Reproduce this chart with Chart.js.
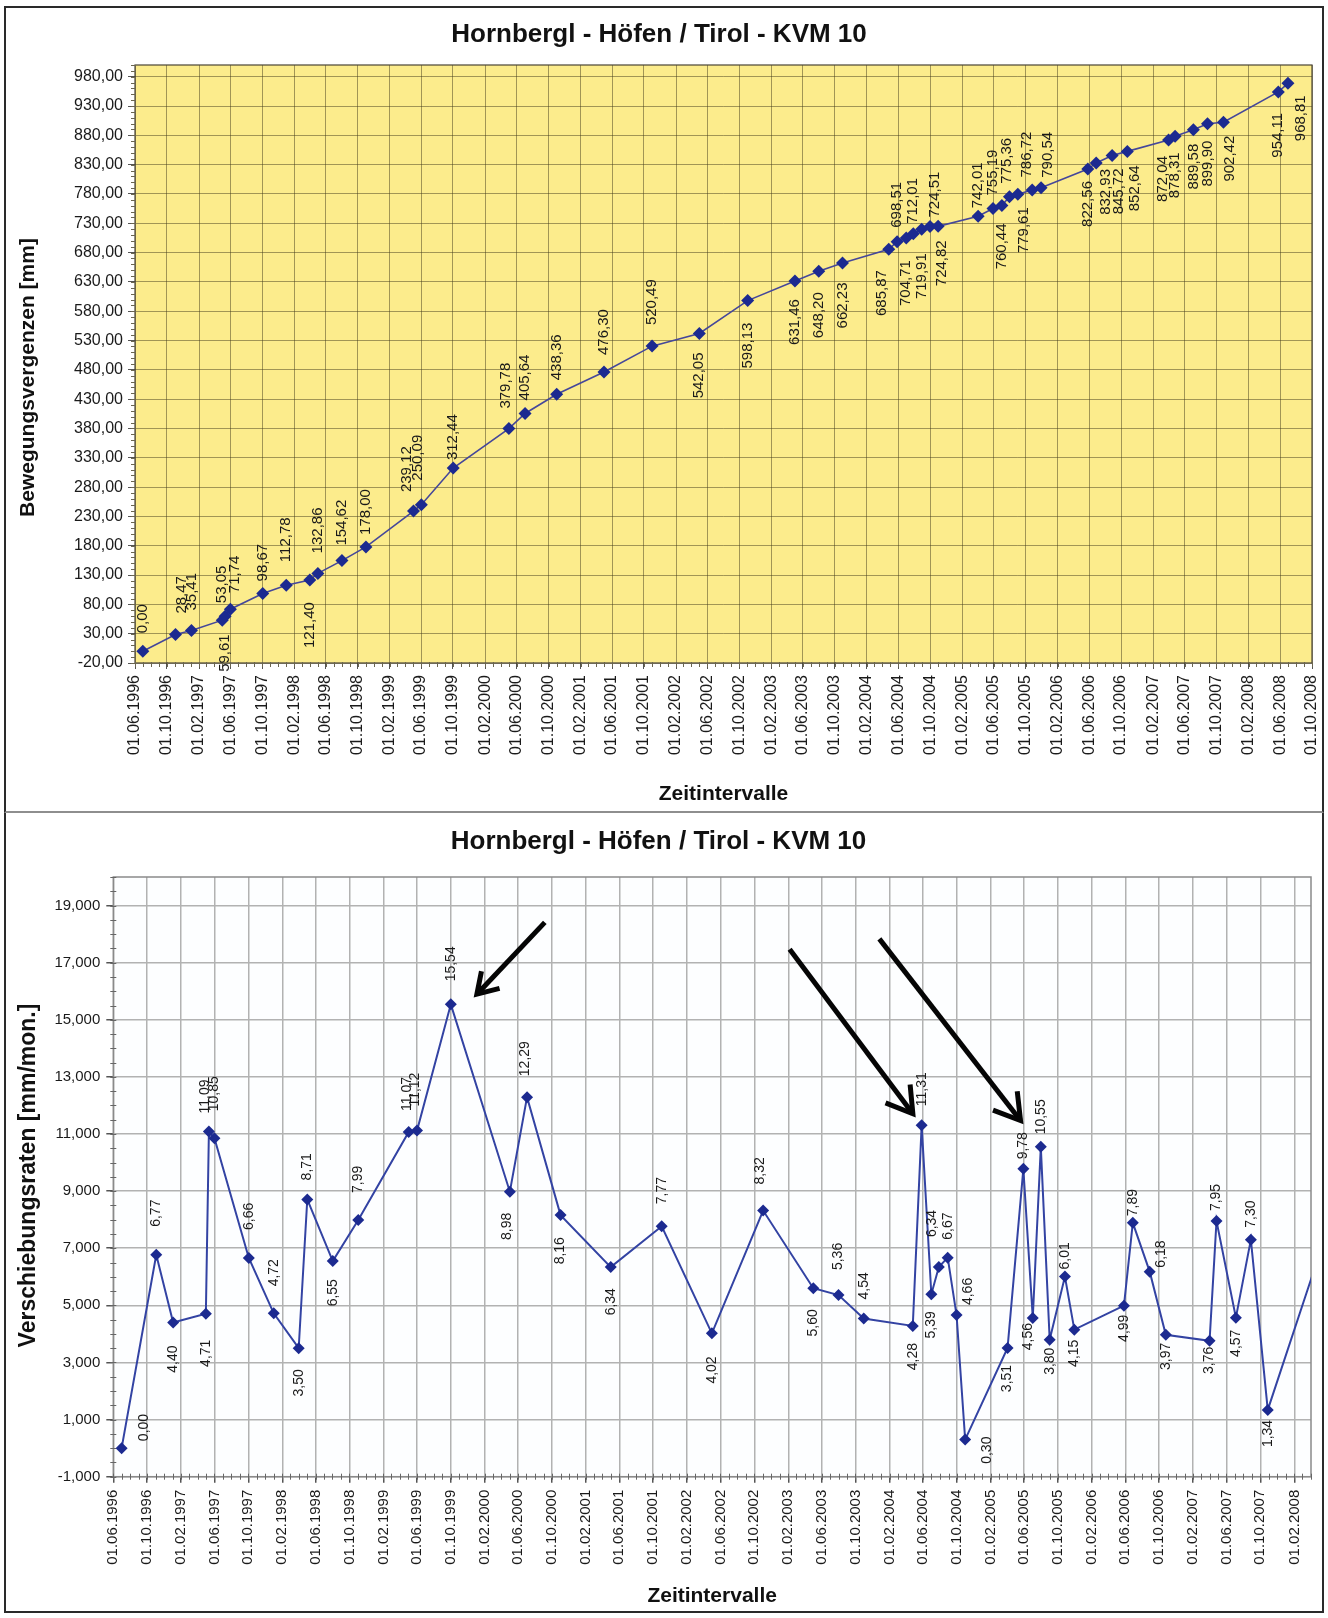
<!DOCTYPE html>
<html lang="de">
<head>
<meta charset="utf-8">
<title>Hornbergl - Höfen / Tirol - KVM 10</title>
<script src="https://cdn.jsdelivr.net/npm/chart.js@4.4.1/dist/chart.umd.min.js"></script>
<style>
  html, body { margin: 0; padding: 0; background: #fff; }
  body { width: 1328px; height: 1618px; position: relative; overflow: hidden; }
  .panel { position: absolute; box-sizing: border-box; }
  #panelTop { left: 4px; top: 6px; width: 1320px; height: 807px; border: 2px solid #2a2a2a; border-bottom: 2px solid #8e8e8e; }
  #panelBottom { left: 4px; top: 813px; width: 1320px; height: 800px; border: 2px solid #2a2a2a; border-top: none; }
  canvas { position: absolute; }
  #chartTop { left: 6px; top: 8px; }
  #chartBottom { left: 6px; top: 814px; }
</style>
</head>
<body>
<div class="panel" id="panelTop"></div>
<div class="panel" id="panelBottom"></div>
<canvas id="chartTop" width="1316" height="803"></canvas>
<canvas id="chartBottom" width="1316" height="797"></canvas>
<script>
// Measurement dates (dd.mm.yyyy)
const measureDates = [
  '01.07.1996', '03.11.1996', '03.01.1997', '01.05.1997', '12.05.1997', '01.06.1997', '03.10.1997',
  '01.01.1998', '01.04.1998', '02.05.1998', '02.08.1998', '02.11.1998', '03.05.1999', '02.06.1999',
  '02.10.1999', '02.05.2000', '03.07.2000', '01.11.2000', '01.05.2001', '01.11.2001', '01.05.2002',
  '02.11.2002', '02.05.2003', '01.08.2003', '31.10.2003', '25.04.2004', '27.05.2004', '01.07.2004',
  '28.07.2004', '29.08.2004', '30.09.2004', '31.10.2004', '02.04.2005', '29.05.2005', '02.07.2005',
  '31.07.2005', '01.09.2005', '26.10.2005', '29.11.2005', '27.05.2006', '28.06.2006', '28.08.2006',
  '25.10.2006', '01.04.2007', '26.04.2007', '05.07.2007', '28.08.2007', '28.10.2007', '25.05.2008',
  '01.07.2008'
];

// Accumulated displacement [mm]
const displacement = [
  0.00, 28.47, 35.41, 53.05, 59.61, 71.74, 98.67, 112.78, 121.40, 132.86,
  154.62, 178.00, 239.12, 250.09, 312.44, 379.78, 405.64, 438.36, 476.30, 520.49,
  542.05, 598.13, 631.46, 648.20, 662.23, 685.87, 698.51, 704.71, 712.01, 719.91,
  724.51, 724.82, 742.01, 755.19, 760.44, 775.36, 779.61, 786.72, 790.54, 822.56,
  832.93, 845.72, 852.64, 872.04, 878.31, 889.58, 899.90, 902.42, 954.11, 968.81
];

// Displacement rate between successive measurements [mm/month]
const rates = [
  0.00, 6.77, 4.40, 4.71, 11.09, 10.85, 6.66, 4.72, 3.50, 8.71,
  6.55, 7.99, 11.07, 11.12, 15.54, 8.98, 12.29, 8.16, 6.34, 7.77,
  4.02, 8.32, 5.60, 5.36, 4.54, 4.28, 11.31, 5.39, 6.34, 6.67,
  4.66, 0.30, 3.51, 9.78, 4.56, 10.55, 3.80, 6.01, 4.15, 4.99,
  7.89, 6.18, 3.97, 3.76, 7.95, 4.57, 7.30, 1.34, 7.49, 12.25
];

// Date axis tick labels
const displacementDateTicks = [
  '01.06.1996', '01.10.1996', '01.02.1997', '01.06.1997', '01.10.1997', '01.02.1998', '01.06.1998',
  '01.10.1998', '01.02.1999', '01.06.1999', '01.10.1999', '01.02.2000', '01.06.2000', '01.10.2000',
  '01.02.2001', '01.06.2001', '01.10.2001', '01.02.2002', '01.06.2002', '01.10.2002', '01.02.2003',
  '01.06.2003', '01.10.2003', '01.02.2004', '01.06.2004', '01.10.2004', '01.02.2005', '01.06.2005',
  '01.10.2005', '01.02.2006', '01.06.2006', '01.10.2006', '01.02.2007', '01.06.2007', '01.10.2007',
  '01.02.2008', '01.06.2008', '01.10.2008'
];
const rateDateTicks = [
  '01.06.1996', '01.10.1996', '01.02.1997', '01.06.1997', '01.10.1997', '01.02.1998', '01.06.1998',
  '01.10.1998', '01.02.1999', '01.06.1999', '01.10.1999', '01.02.2000', '01.06.2000', '01.10.2000',
  '01.02.2001', '01.06.2001', '01.10.2001', '01.02.2002', '01.06.2002', '01.10.2002', '01.02.2003',
  '01.06.2003', '01.10.2003', '01.02.2004', '01.06.2004', '01.10.2004', '01.02.2005', '01.06.2005',
  '01.10.2005', '01.02.2006', '01.06.2006', '01.10.2006', '01.02.2007', '01.06.2007', '01.10.2007',
  '01.02.2008'
];

// Value axis tick labels
const displacementValueTicks = [-20, 30, 80, 130, 180, 230, 280, 330, 380, 430, 480, 530, 580, 630, 680, 730, 780, 830, 880, 930, 980];
const rateValueTicks = [-1, 1, 3, 5, 7, 9, 11, 13, 15, 17, 19];

// Value label layout per point: side (a = above, b = below), gap to the point [px], sideways nudge [px]
const displacementLabelSide = [
  'a', 'a', 'a', 'a', 'b', 'a', 'a', 'a', 'b', 'a',
  'a', 'a', 'a', 'a', 'a', 'a', 'a', 'a', 'a', 'a',
  'b', 'b', 'b', 'b', 'b', 'b', 'a', 'b', 'a', 'b',
  'a', 'b', 'a', 'a', 'b', 'a', 'b', 'a', 'a', 'b',
  'b', 'b', 'b', 'b', 'b', 'b', 'b', 'b', 'b', 'b'
];
const displacementLabelGap = [
  18, 21, 20, 17, 18, 16, 12, 23, 22, 20,
  15, 12, 19, 24, 8, 20, 13, 14, 17, 21,
  19, 22, 18, 21, 19.5, 21, 14, 22, 10, 24,
  9, 14, 8, 13, 18, 13, 13, 12.5, 10, 12,
  6, 13, 14, 16, 16, 14, 17, 13.5, 21, 12
];
const displacementLabelShift = [
  0, 6, 0, 0, 0, 4, 0, 0, 0, 0,
  0, 0, -7, -3, 0, -3, 0, 0, 0, 0,
  0, 0, 0, 0, 0, -7, 0, 0, 0, 0,
  5, 4, 0, 0, 0, -3, 6, -5, 7, 0,
  10, 7, 8, -6, 0, 0, 0, 6, 0, 13
];
const rateLabelSide = [
  'a', 'a', 'b', 'b', 'a', 'a', 'a', 'a', 'b', 'a',
  'b', 'a', 'a', 'a', 'a', 'b', 'a', 'b', 'b', 'a',
  'b', 'a', 'b', 'a', 'a', 'b', 'a', 'b', 'a', 'a',
  'a', 'b', 'b', 'a', 'b', 'a', 'b', 'a', 'b', 'b',
  'a', 'a', 'b', 'b', 'a', 'b', 'a', 'b', 'a', 'a'
];
const rateLabelGap = [
  7, 28, 23, 26, 18, 27, 28, 27, 21, 19,
  18, 27, 21, 24, 23, 21, 21, 22, 21, 22,
  23, 26, 21, 25, 19, 17, 19, 17, 30, 18,
  10, -3, 17, 9.5, 5, 12.5, 8, 7, 10, 9,
  6.6, 4, 8, 6, 10, 12, 12, 10, 0, 0
];
const rateLabelShift = [
  23, 0, 0, 0, -4, 0, 0, 0, 0, 0,
  0, 0, -2, -2, 0, -3, -2, 0, 0, 0,
  0, -3, 0, 0, 0, 0, 0, 0, -7, 0,
  12, 22, 0, 0, -5, 0, 0, 0, 0, 0,
  0, 11, 0, 0, 0, 0, 0, 0, 0, 0
];

const FONT = "'Liberation Sans', Arial, Helvetica, sans-serif";

function dayNum(s) {
  const [d, m, y] = s.split('.').map(Number);
  return Date.UTC(y, m - 1, d) / 86400000;
}
function fmt(v, dec) { return v.toFixed(dec).replace('.', ','); }

// Fills the plot area and outlines it
function plotBackground(fill, frameColor, frameWidth) {
  return {
    id: 'plotBackground',
    beforeDraw(chart) {
      const { ctx, chartArea: a } = chart;
      ctx.save();
      ctx.fillStyle = fill;
      ctx.fillRect(a.left, a.top, a.width, a.height);
      ctx.restore();
    },
    beforeDatasetsDraw(chart) {
      const { ctx, chartArea: a } = chart;
      ctx.save();
      ctx.strokeStyle = frameColor;
      ctx.lineWidth = frameWidth;
      ctx.strokeRect(a.left, a.top, a.width, a.height);
      ctx.restore();
    }
  };
}

// Small tick marks between the labelled ticks (value steps and calendar months)
function minorTicks(o) {
  return {
    id: 'minorTicks',
    beforeDatasetsDraw(chart) {
      const { ctx, chartArea: a, scales: { x, y } } = chart;
      ctx.save();
      ctx.strokeStyle = o.color;
      ctx.lineWidth = 1;
      ctx.beginPath();
      for (let v = y.min; v <= y.max + 1e-9; v += o.yStep) {
        const py = Math.round(y.getPixelForValue(v)) + 0.5;
        ctx.moveTo(a.left - o.out, py);
        ctx.lineTo(a.left + o.in, py);
      }
      const start = new Date(x.min * 86400000);
      let yy = start.getUTCFullYear(), mm = start.getUTCMonth();
      for (;;) {
        const dn = Date.UTC(yy, mm, 1) / 86400000;
        if (dn > x.max) break;
        if (dn >= x.min) {
          const px = Math.round(x.getPixelForValue(dn)) + 0.5;
          ctx.moveTo(px, a.bottom - o.in);
          ctx.lineTo(px, a.bottom + o.out);
        }
        mm++;
        if (mm > 11) { mm = 0; yy++; }
      }
      ctx.stroke();
      ctx.restore();
    }
  };
}

// Rotated value labels next to each point
function valueLabels(o) {
  return {
    id: 'valueLabels',
    afterDatasetsDraw(chart) {
      const { ctx, chartArea: a } = chart;
      const meta = chart.getDatasetMeta(0);
      const pts = chart.data.datasets[0].data;
      ctx.save();
      ctx.font = o.font;
      ctx.fillStyle = o.color;
      ctx.textBaseline = 'middle';
      meta.data.forEach((el, i) => {
        if (el.x < a.left - 1 || el.x > a.right + 1) return;
        const above = o.sides[i] === 'a';
        const gap = o.gaps[i];
        ctx.save();
        ctx.translate(el.x + o.shifts[i], el.y + (above ? -gap : gap));
        ctx.rotate(-Math.PI / 2);
        ctx.textAlign = above ? 'left' : 'right';
        ctx.fillText(fmt(pts[i].y, o.decimals), 0, 0);
        ctx.restore();
      });
      ctx.restore();
    }
  };
}

// Vertical axis caption
function yCaption(o) {
  return {
    id: 'yCaption',
    afterDraw(chart) {
      const { ctx } = chart;
      ctx.save();
      ctx.font = o.font;
      ctx.fillStyle = '#111';
      ctx.textAlign = 'center';
      ctx.textBaseline = 'middle';
      ctx.translate(o.x, o.y);
      ctx.rotate(-Math.PI / 2);
      ctx.fillText(o.text, 0, 0);
      ctx.restore();
    }
  };
}

// Arrows pointing at selected points
function callouts(items) {
  return {
    id: 'callouts',
    afterDatasetsDraw(chart) {
      const { ctx } = chart;
      const meta = chart.getDatasetMeta(0);
      ctx.save();
      ctx.strokeStyle = '#050505';
      ctx.lineWidth = 5;
      ctx.lineJoin = 'miter';
      items.forEach(it => {
        const p = meta.data[it.point];
        const tx = p.x + it.tip[0], ty = p.y + it.tip[1];
        const sx = p.x + it.tail[0], sy = p.y + it.tail[1];
        const ang = Math.atan2(ty - sy, tx - sx);
        ctx.beginPath();
        ctx.moveTo(sx, sy);
        ctx.lineTo(tx - 3 * Math.cos(ang), ty - 3 * Math.sin(ang));
        ctx.stroke();
        ctx.beginPath();
        ctx.moveTo(tx - it.head * Math.cos(ang - 0.5), ty - it.head * Math.sin(ang - 0.5));
        ctx.lineTo(tx - 3 * Math.cos(ang), ty - 3 * Math.sin(ang));
        ctx.lineTo(tx - it.head * Math.cos(ang + 0.5), ty - it.head * Math.sin(ang + 0.5));
        ctx.stroke();
      });
      ctx.restore();
    }
  };
}

function buildChart(canvasId, s) {
  const tickText = new Map(s.xTicks.map(t => [dayNum(t), t]));
  return new Chart(document.getElementById(canvasId), {
    type: 'line',
    data: {
      datasets: [{
        data: measureDates.map((d, i) => ({ x: dayNum(d), y: s.values[i] })),
        borderColor: s.lineColor,
        borderWidth: s.lineWidth,
        pointStyle: 'rectRot',
        pointRadius: s.pointRadius,
        pointBackgroundColor: '#1c2a90',
        pointBorderColor: '#1c2a90',
        pointBorderWidth: 0,
        tension: 0,
        clip: { left: 10, top: 10, right: 0, bottom: 10 }
      }]
    },
    options: {
      responsive: false,
      animation: false,
      devicePixelRatio: 1,
      layout: { padding: { left: 0, top: 0, right: s.padRight, bottom: 0 } },
      plugins: {
        legend: { display: false },
        tooltip: { enabled: false },
        title: {
          display: true,
          text: 'Hornbergl - Höfen / Tirol - KVM 10',
          color: '#111',
          font: { family: FONT, size: 26, weight: 'bold' },
          padding: s.titlePadding
        }
      },
      scales: {
        x: {
          type: 'linear',
          min: dayNum(s.xMin),
          max: dayNum(s.xMax),
          afterBuildTicks: sc => { sc.ticks = s.xTicks.map(t => ({ value: dayNum(t) })); },
          afterFit: sc => { sc.height = s.xHeight; sc.paddingLeft = 0; sc.paddingRight = 0; },
          border: { display: false },
          grid: { color: s.gridColor, lineWidth: s.gridWidth, tickLength: 6, tickColor: '#555' },
          ticks: {
            autoSkip: false, minRotation: 90, maxRotation: 90, padding: s.xTickPad,
            color: '#1a1a1a', font: { family: FONT, size: s.xTickSize },
            callback: v => tickText.get(v) ?? ''
          },
          title: {
            display: true, text: 'Zeitintervalle', color: '#111',
            font: { family: FONT, size: 21, weight: 'bold' },
            padding: { top: 0, bottom: s.xTitlePad }
          }
        },
        y: {
          min: s.yMin,
          max: s.yMax,
          afterBuildTicks: sc => { sc.ticks = s.yTicks.map(v => ({ value: v })); },
          afterFit: sc => { sc.width = s.yWidth; sc.paddingTop = 0; sc.paddingBottom = 0; },
          border: { display: false },
          grid: { color: s.gridColor, lineWidth: s.gridWidth, tickLength: 7, tickColor: '#555' },
          ticks: {
            padding: s.yTickPad, color: '#1a1a1a',
            font: { family: FONT, size: s.yTickSize },
            callback: v => fmt(v, s.yDecimals)
          }
        }
      }
    },
    plugins: s.plugins
  });
}

// Accumulated displacement
buildChart('chartTop', {
  values: displacement,
  xTicks: displacementDateTicks, xMin: '01.06.1996', xMax: '01.10.2008',
  yTicks: displacementValueTicks, yMin: -20, yMax: 1000, yDecimals: 2,
  lineColor: '#45479a', lineWidth: 1.6, pointRadius: 6.5,
  gridColor: 'rgba(70, 62, 30, 0.5)', gridWidth: 1,
  padRight: 10, xHeight: 148, yWidth: 129,
  titlePadding: { top: 11.4, bottom: 14.4 },
  xTickSize: 16, xTickPad: 6, yTickSize: 16, yTickPad: 5, xTitlePad: 4.4,
  plugins: [
    plotBackground('#fcec8c', '#4a4535', 1.2),
    minorTicks({ yStep: 10, in: 1, out: 4, color: '#6b6650' }),
    valueLabels({
      sides: displacementLabelSide, gaps: displacementLabelGap, shifts: displacementLabelShift,
      decimals: 2, font: `15px ${FONT}`, color: '#1a1a1a'
    }),
    yCaption({ text: 'Bewegungsvergenzen [mm]', x: 22, y: 369.5, font: `bold 21px ${FONT}` })
  ]
});

// Displacement rate
buildChart('chartBottom', {
  values: rates,
  xTicks: rateDateTicks, xMin: '01.06.1996', xMax: '01.04.2008',
  yTicks: rateValueTicks, yMin: -1, yMax: 20, yDecimals: 3,
  lineColor: '#3343a3', lineWidth: 2, pointRadius: 6,
  gridColor: '#b2b2b2', gridWidth: 1.5,
  padRight: 11, xHeight: 134.3, yWidth: 107.3,
  titlePadding: { top: 12.4, bottom: 19.4 },
  xTickSize: 15, xTickPad: 7, yTickSize: 15, yTickPad: 6, xTitlePad: 2.4,
  plugins: [
    plotBackground('#fdfeff', '#8a8a8a', 1.5),
    minorTicks({ yStep: 0.5, in: 3, out: 3, color: '#666' }),
    valueLabels({
      sides: rateLabelSide, gaps: rateLabelGap, shifts: rateLabelShift,
      decimals: 2, font: `14px ${FONT}`, color: '#1a1a1a'
    }),
    yCaption({ text: 'Verschiebungsraten [mm/mon.]', x: 23, y: 361.5, font: `bold 23px ${FONT}` }),
    callouts([
      { point: 14, tail: [94, -82], tip: [24, -8], head: 26 },
      { point: 26, tail: [-132, -176], tip: [-7, -9], head: 32 },
      { point: 33, tail: [-144, -230], tip: [-1, -46], head: 32 }
    ])
  ]
});
</script>
</body>
</html>
